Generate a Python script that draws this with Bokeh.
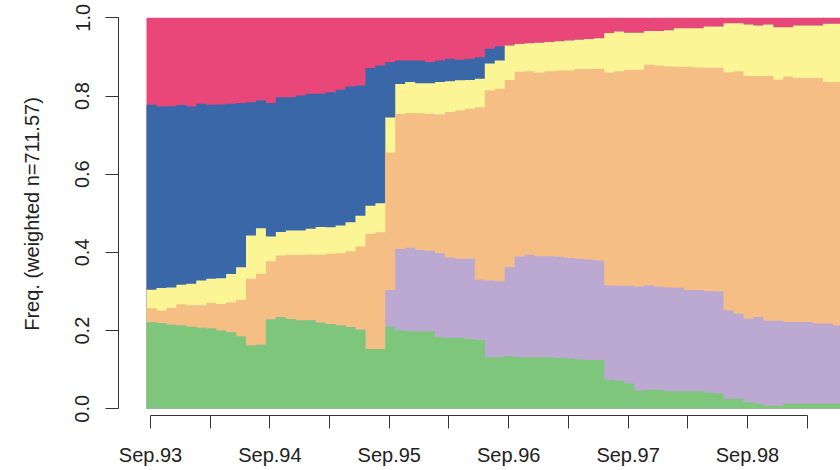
import numpy as np
from bokeh.plotting import figure
from bokeh.models import Range1d, FixedTicker, NumeralTickFormatter
from bokeh.embed import file_html
from bokeh.resources import INLINE

months = ["Sep.93", "Oct.93", "Nov.93", "Dec.93", "Jan.94", "Feb.94", "Mar.94", "Apr.94", "May.94", "Jun.94", "Jul.94", "Aug.94",
          "Sep.94", "Oct.94", "Nov.94", "Dec.94", "Jan.95", "Feb.95", "Mar.95", "Apr.95", "May.95", "Jun.95", "Jul.95", "Aug.95",
          "Sep.95", "Oct.95", "Nov.95", "Dec.95", "Jan.96", "Feb.96", "Mar.96", "Apr.96", "May.96", "Jun.96", "Jul.96", "Aug.96",
          "Sep.96", "Oct.96", "Nov.96", "Dec.96", "Jan.97", "Feb.97", "Mar.97", "Apr.97", "May.97", "Jun.97", "Jul.97", "Aug.97",
          "Sep.97", "Oct.97", "Nov.97", "Dec.97", "Jan.98", "Feb.98", "Mar.98", "Apr.98", "May.98", "Jun.98", "Jul.98", "Aug.98",
          "Sep.98", "Oct.98", "Nov.98", "Dec.98", "Jan.99", "Feb.99", "Mar.99", "Apr.99", "May.99", "Jun.99"]

# state frequencies per month, bottom to top
state_green = [.221, .219, .215, .213, .210, .207, .205, .200, .196, .185, .162, .164,
               .228, .234, .230, .226, .226, .220, .217, .213, .209, .202, .153, .153,
               .210, .200, .198, .198, .198, .183, .182, .182, .179, .176, .132, .132,
               .135, .132, .132, .132, .132, .130, .129, .126, .125, .125, .074, .072,
               .065, .047, .049, .049, .045, .045, .045, .045, .041, .040, .026, .026,
               .017, .013, .008, .008, .013, .013, .013, .013, .013, .013]
state_purple = [0, 0, 0, 0, 0, 0, 0, 0, 0, 0, 0, 0,
                0, 0, 0, 0, 0, 0, 0, 0, 0, 0, 0, 0,
                .094, .209, .213, .208, .206, .215, .205, .202, .205, .154, .196, .194,
                .228, .258, .262, .258, .258, .259, .257, .258, .257, .254, .241, .243,
                .250, .266, .267, .263, .265, .265, .259, .259, .260, .260, .226, .217,
                .213, .222, .217, .217, .209, .209, .209, .205, .205, .200]
state_orange = [.036, .033, .043, .054, .055, .058, .066, .068, .076, .094, .171, .182,
                .149, .158, .164, .168, .168, .174, .179, .185, .194, .213, .294, .298,
                .352, .345, .344, .349, .350, .355, .372, .379, .384, .441, .486, .492,
                .479, .473, .469, .470, .473, .476, .479, .485, .488, .490, .544, .548,
                .552, .554, .564, .565, .566, .566, .571, .569, .571, .572, .609, .620,
                .620, .616, .625, .616, .628, .624, .624, .628, .618, .622]
state_yellow = [.047, .057, .052, .050, .055, .063, .061, .066, .073, .083, .111, .116,
                .063, .060, .062, .062, .066, .071, .068, .071, .074, .079, .072, .074,
                .090, .077, .079, .077, .078, .083, .079, .077, .074, .073, .069, .072,
                .088, .071, .072, .076, .075, .075, .077, .075, .077, .078, .101, .102,
                .095, .095, .086, .088, .092, .098, .098, .100, .106, .106, .125, .123,
                .132, .129, .132, .134, .126, .134, .134, .134, .149, .149]
state_blue = [.473, .465, .464, .459, .453, .452, .445, .444, .435, .420, .341, .327,
              .341, .345, .341, .345, .345, .341, .345, .347, .347, .333, .352, .352,
              .141, .060, .055, .058, .054, .055, .057, .053, .054, .055, .038, .036,
              0, 0, 0, 0, 0, 0, 0, 0, 0, 0, 0, 0,
              0, 0, 0, 0, 0, 0, 0, 0, 0, 0, 0, 0,
              0, 0, 0, 0, 0, 0, 0, 0, 0, 0]
state_pink = [.222, .227, .226, .223, .227, .220, .222, .222, .220, .218, .216, .212,
              .218, .203, .203, .199, .194, .194, .190, .184, .176, .173, .128, .122,
              .114, .109, .109, .109, .113, .109, .105, .107, .105, .101, .079, .073,
              .071, .067, .065, .064, .062, .060, .058, .056, .054, .052, .039, .035,
              .038, .038, .034, .034, .032, .027, .027, .027, .022, .022, .014, .014,
              .017, .020, .017, .024, .024, .020, .020, .020, .015, .015]

colors = ["#7EC67B", "#BCA9D2", "#F4BE84", "#FCF596", "#3967A8", "#E9477A"]
y_label = "Freq. (weighted n=711.57)"

series = np.array([state_green, state_purple, state_orange, state_yellow, state_blue, state_pink], dtype=float)
series = series / series.sum(axis=0)
cum = np.cumsum(series, axis=0)
n = series.shape[1]
edges = np.arange(n + 1) - 0.4

p = figure(width=840, height=470, output_backend="svg", toolbar_location=None,
           x_range=Range1d(-3.216, 69.35), y_range=Range1d(-0.0171, 1.01355),
           min_border_left=118, min_border_right=0, min_border_top=12, min_border_bottom=55)
p.grid.visible = False
p.outline_line_color = None

for k in range(5, -1, -1):
    top = np.append(cum[k], cum[k][-1])
    p.varea_step(x=edges, y1=np.zeros(n + 1), y2=top, step_mode="after", fill_color=colors[k])

axis_col = "#333333"
text_col = "#222222"

xa = p.xaxis[0]
xa.ticker = FixedTicker(ticks=list(range(0, n - 3, 6)))
xa.major_label_overrides = {i: (months[i] if i % 12 == 0 else "") for i in range(0, n - 3, 6)}
xa.bounds = (0, 66)
xa.major_tick_out = 13
xa.major_tick_in = 0
xa.minor_tick_out = 0
xa.minor_tick_in = 0
xa.axis_line_color = axis_col
xa.major_tick_line_color = axis_col
xa.major_label_text_font = "Liberation Sans"
xa.major_label_text_font_size = "20px"
xa.major_label_text_color = text_col
xa.major_label_standoff = 15

ya = p.yaxis[0]
ya.ticker = FixedTicker(ticks=[0, 0.2, 0.4, 0.6, 0.8, 1.0])
ya.formatter = NumeralTickFormatter(format="0.0")
ya.bounds = (0, 1)
ya.major_tick_out = 13
ya.major_tick_in = 0
ya.minor_tick_out = 0
ya.minor_tick_in = 0
ya.axis_line_color = axis_col
ya.major_tick_line_color = axis_col
ya.major_label_orientation = "vertical"
ya.major_label_text_font = "Liberation Sans"
ya.major_label_text_font_size = "20px"
ya.major_label_text_color = text_col
ya.major_label_standoff = 16
ya.axis_label = y_label
ya.axis_label_text_font = "Liberation Sans"
ya.axis_label_text_font_size = "20px"
ya.axis_label_text_font_style = "normal"
ya.axis_label_text_color = text_col
ya.axis_label_standoff = 30

open("out.html", "w").write(file_html(p, INLINE))
